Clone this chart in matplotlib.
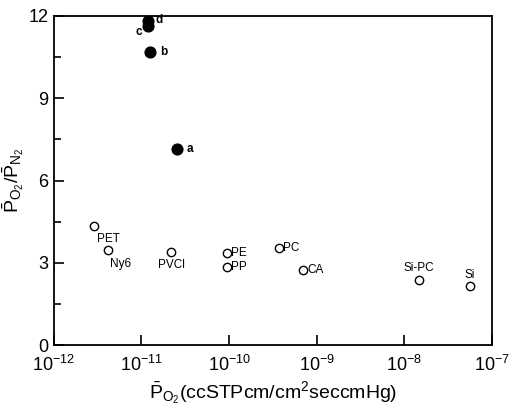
import numpy as np
import matplotlib.pyplot as plt

plt.rcParams['font.family'] = ['Liberation Sans', 'DejaVu Sans']
plt.rcParams['mathtext.fontset'] = 'custom'
plt.rcParams['mathtext.rm'] = 'Liberation Sans'
plt.rcParams['mathtext.it'] = 'Liberation Sans'

# open circles: conventional polymer films
open_names = ["PET", "Ny6", "PVCl", "PE", "PP", "PC", "CA", "Si-PC", "Si"]
open_po2 = [2.9e-12, 4.2e-12, 2.2e-11, 9.5e-11, 9.5e-11, 3.7e-10, 7.0e-10, 1.46e-8, 5.6e-8]
open_ratio = [4.34, 3.47, 3.39, 3.36, 2.85, 3.54, 2.74, 2.37, 2.15]

# filled circles: samples a-d
fill_names = ["a", "b", "c", "d"]
fill_po2 = [2.56e-11, 1.26e-11, 1.18e-11, 1.20e-11]
fill_ratio = [7.15, 10.7, 11.65, 11.8]

# label offsets in points (dx, dy, ha)
open_offsets = [(2, -9, 'left'), (1, -10, 'left'), (0, -9, 'center'), (3, 0, 'left'),
                (3, 0, 'left'), (3, 0, 'left'), (3, 0, 'left'), (0, 9, 'center'), (0, 8, 'center')]
fill_offsets = [(7, 0, 'left'), (7, 0, 'left'), (-4, -5, 'right'), (5, 1, 'left')]

fig = plt.figure(figsize=(5.13, 4.08), dpi=100)
ax = fig.add_axes([0.105, 0.154, 0.854, 0.807])

ax.scatter(open_po2, open_ratio, s=36, facecolors='white', edgecolors='black', linewidths=1.0, zorder=3)
ax.scatter(fill_po2, fill_ratio, s=60, color='black', zorder=3)

for name, x, y, (dx, dy, ha) in zip(open_names, open_po2, open_ratio, open_offsets):
    ax.annotate(name, (x, y), xytext=(dx, dy), textcoords='offset points',
                ha=ha, va='center', fontsize=8.5)
for name, x, y, (dx, dy, ha) in zip(fill_names, fill_po2, fill_ratio, fill_offsets):
    ax.annotate(name, (x, y), xytext=(dx, dy), textcoords='offset points',
                ha=ha, va='center', fontsize=8.5, fontweight='bold')

ax.set_xscale('log')
ax.set_xlim(1e-12, 1e-7)
ax.set_ylim(0, 12)
ax.set_xticks([1e-12, 1e-11, 1e-10, 1e-9, 1e-8, 1e-7])
ax.minorticks_off()
ax.set_yticks(np.arange(0, 12.1, 3))
ax.set_yticks(np.arange(0, 12.1, 1.5), minor=True)
ax.tick_params(which='both', direction='in', top=False, right=False, labelsize=13, width=1.2)
ax.tick_params(which='major', length=7)
ax.tick_params(which='minor', length=5)
ax.tick_params(axis='x', pad=7)
ax.tick_params(axis='y', pad=4)
for s in ax.spines.values():
    s.set_linewidth(1.3)

ax.set_xlabel(r'$\bar{\mathrm{P}}_{\mathrm{O}_2}$(ccSTPcm/cm$^2$seccmHg)', fontsize=14, labelpad=3)
ax.set_ylabel(r'$\bar{\mathrm{P}}_{\mathrm{O}_2}/\bar{\mathrm{P}}_{\mathrm{N}_2}$', fontsize=14, labelpad=2)

fig.savefig('out.png', dpi=100)
